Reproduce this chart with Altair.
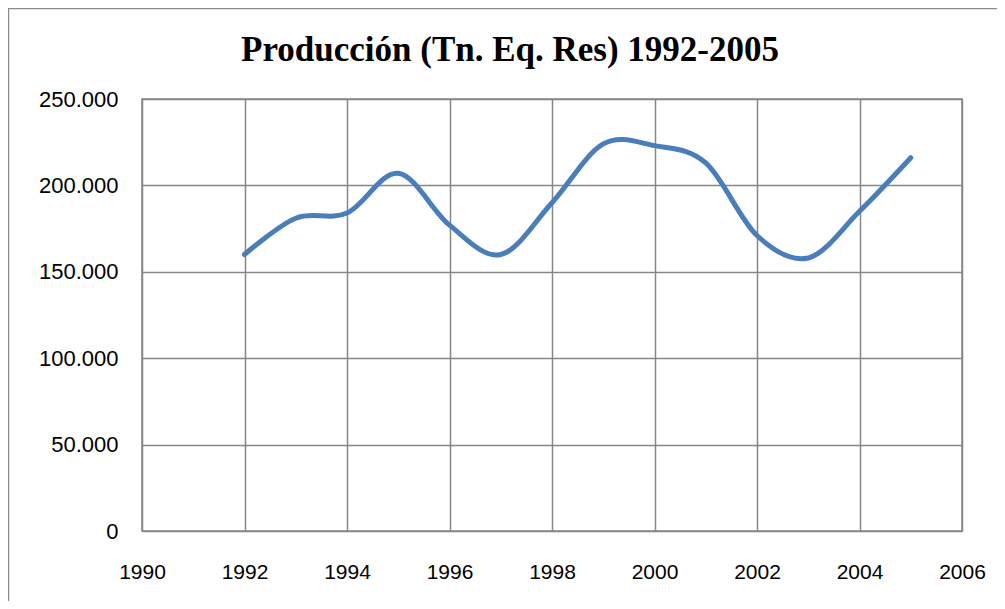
import altair as alt
import pandas as pd

years = [1992, 1993, 1994, 1995, 1996, 1997, 1998, 1999, 2000, 2001, 2002, 2003, 2004, 2005]
produccion = [160000, 181000, 184000, 207000, 177000, 160000, 190000, 224000, 223000, 213000, 171000, 158000, 185000, 216000]
x_ticks = [1990, 1992, 1994, 1996, 1998, 2000, 2002, 2004, 2006]
y_ticks = [0, 50000, 100000, 150000, 200000, 250000]
title_text = "Producción (Tn. Eq. Res) 1992-2005"

df = pd.DataFrame({"year": years, "value": produccion})

W, H = 820, 432
GRID = "#868686"

line = alt.Chart(df).mark_line(
    interpolate="cardinal", color="#4a7ebb", strokeWidth=5, strokeCap="round"
).encode(
    x=alt.X("year:Q", scale=alt.Scale(domain=[1990, 2006], nice=False),
            axis=alt.Axis(values=x_ticks, format="d", title=None, grid=True,
                          gridColor=GRID, gridWidth=1.5, domain=False, ticks=False,
                          labelPadding=30, labelFontSize=21, labelFont="Liberation Sans",
                          labelColor="#000000", labelBaseline="top",
                          labelFlush=False, labelOverlap=False)),
    y=alt.Y("value:Q", scale=alt.Scale(domain=[0, 250000], nice=False),
            axis=alt.Axis(values=y_ticks, title=None, grid=True,
                          labelExpr="replace(format(datum.value, ','), ',', '.')",
                          gridColor=GRID, gridWidth=1.5, domain=False, ticks=False,
                          labelPadding=24, labelFontSize=22, labelFont="Liberation Sans",
                          labelColor="#000000", labelFlush=False, labelOverlap=False)),
)

border = alt.Chart(pd.DataFrame({"k": [0]})).mark_rect(
    fill=None, stroke="#8c8c8c", strokeWidth=1.5
).encode(
    x=alt.value(-133.5), x2=alt.value(W + 60),
    y=alt.value(-90.5), y2=alt.value(H + 90),
)

title = alt.Chart(pd.DataFrame({"t": [title_text]})).mark_text(
    font="Liberation Serif", fontSize=35, fontWeight="bold", color="#000000",
    align="center", baseline="alphabetic"
).encode(
    text="t:N", x=alt.value(368), y=alt.value(-38)
)

chart = alt.layer(border, line, title).properties(
    width=W, height=H,
    autosize=alt.AutoSizeParams(type="none"),
    padding={"left": 134, "top": 91, "right": 35, "bottom": 70},
).configure_view(
    stroke=GRID, strokeWidth=1.5
)

chart.save("out.html", embed_options={"renderer": "svg", "actions": False})
